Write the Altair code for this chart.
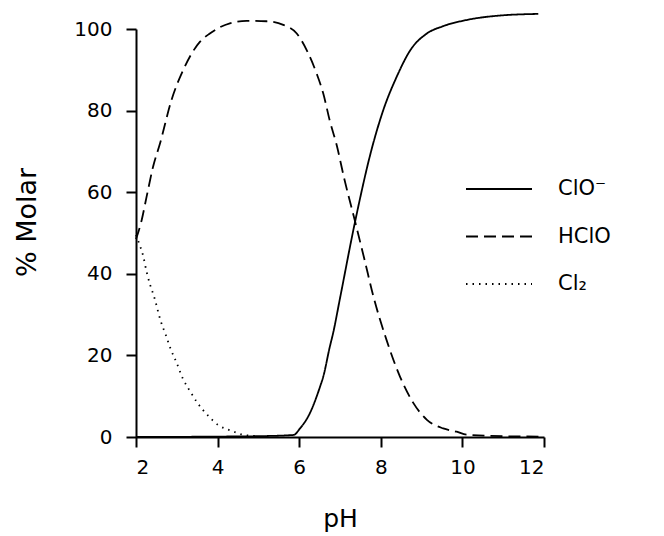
import altair as alt
import pandas as pd

series = ["ClO⁻", "HClO", "Cl₂"]

clo_ph = [2.0, 4.0, 5.0, 5.86, 6.02, 6.26, 6.51, 6.59, 6.75, 6.83, 7.0, 7.37, 7.78, 8.06, 8.39, 8.73, 9.13, 9.53, 10.1, 10.92, 11.86]
clo_val = [0.0, 0.1, 0.2, 0.5, 2.1, 5.8, 12.3, 14.8, 22.1, 25.4, 34.0, 52.8, 70.7, 80.1, 88.3, 94.9, 98.9, 100.7, 102.2, 103.3, 103.7]

hclo_ph = [2.0, 2.14, 2.26, 2.42, 2.59, 2.87, 3.16, 3.57, 3.81, 4.30, 4.71, 5.20, 5.61, 5.94, 6.18, 6.43, 6.59, 6.75, 6.92, 7.1, 7.37, 7.6, 7.82, 8.14, 8.47, 8.80, 9.13, 9.53, 9.86, 10.1, 11.0, 12.0]
hclo_val = [48.5, 53.2, 58.9, 66.3, 72.0, 82.6, 90.0, 96.9, 98.9, 101.4, 102.0, 101.9, 101.0, 98.9, 94.9, 89.0, 84.2, 77.5, 71.5, 63.5, 52.8, 43.5, 34.4, 23.8, 14.8, 8.3, 4.2, 2.1, 1.3, 0.6, 0.2, 0.1]

cl2_ph = [2.0, 2.06, 2.18, 2.26, 2.34, 2.44, 2.61, 2.73, 2.86, 3.0, 3.14, 3.32, 3.51, 3.75, 4.02, 4.35, 4.6, 5.0]
cl2_val = [49.5, 47.9, 44.2, 40.5, 37.5, 34.5, 28.3, 25.0, 21.3, 18.1, 14.5, 11.3, 8.3, 5.4, 2.9, 1.5, 0.6, 0.2]

rows = []
for name, xs, ys in [(series[0], clo_ph, clo_val), (series[1], hclo_ph, hclo_val), (series[2], cl2_ph, cl2_val)]:
    for i, (x, y) in enumerate(zip(xs, ys)):
        rows.append({"series": name, "pH": x, "molar": y, "order": i})
df = pd.DataFrame(rows)

FONT = "DejaVu Sans"
dash_scale = alt.Scale(domain=series, range=[[1, 0], [12, 6], [1.5, 5]])

lines = alt.Chart(df).mark_line(color="black", strokeWidth=1.8, interpolate="monotone").encode(
    x=alt.X("pH:Q", scale=alt.Scale(domain=[2, 12], nice=False, zero=False),
            axis=alt.Axis(values=[2, 4, 6, 8, 10, 12], title="pH", labelPadding=10,
                          titleY=89, titleBaseline="alphabetic")),
    y=alt.Y("molar:Q", scale=alt.Scale(domain=[0, 100], nice=False),
            axis=alt.Axis(values=[0, 20, 40, 60, 80, 100], title="% Molar", labelPadding=14,
                          titleX=-101, titleY=193, titleBaseline="alphabetic", titleAngle=-90,
                          titleFontSize=27)),
    strokeDash=alt.StrokeDash("series:N", scale=dash_scale, legend=None),
    detail="series:N",
    order="order:Q",
)

leg_df = pd.DataFrame({"series": series})
leg_y = alt.Y("series:N", scale=alt.Scale(type="point", domain=series, range=[160, 255], padding=0), axis=None)

leg_rules = alt.Chart(leg_df).mark_rule(color="black", strokeWidth=1.8).encode(
    x=alt.value(330), x2=alt.value(396), y=leg_y,
    strokeDash=alt.StrokeDash("series:N", scale=dash_scale, legend=None),
)
leg_text = alt.Chart(leg_df).mark_text(align="left", baseline="middle", fontSize=21, font=FONT, color="black").encode(
    x=alt.value(422), y=leg_y, text="series:N",
)

chart = alt.layer(lines, leg_rules, leg_text).resolve_scale(y="independent").properties(
    width=408, height=408,
    autosize=alt.AutoSizeParams(type="none"),
    padding={"left": 128, "top": 21, "right": 110, "bottom": 97},
).configure_view(stroke=None).configure_axis(
    grid=False, domainColor="black", domainWidth=2, tickColor="black", tickWidth=2, tickSize=10,
    labelFont=FONT, labelFontSize=20, labelColor="black",
    titleFont=FONT, titleFontSize=25, titleFontWeight="normal", titleColor="black",
)

chart.save("out.html", embed_options={"renderer": "svg", "actions": False})
